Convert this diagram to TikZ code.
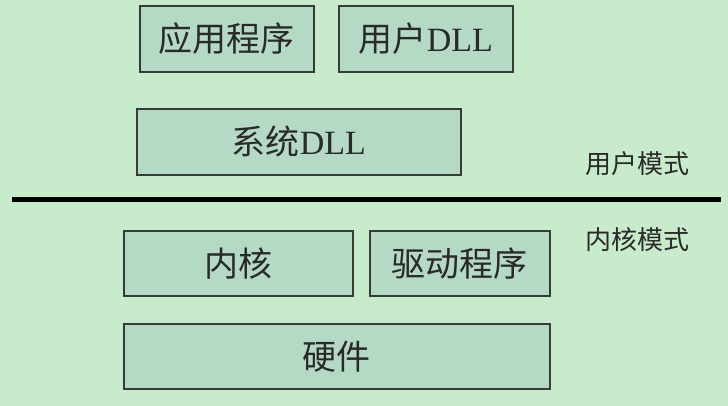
\documentclass[tikz,border=0pt]{standalone}
\usepackage{fontspec}
\newfontfamily\cjk{Noto Sans CJK SC}
\setmainfont{Liberation Serif}
\definecolor{bg}{HTML}{C8EBCB}
\definecolor{boxfill}{HTML}{B4D9C4}
\definecolor{ink}{HTML}{2A2A2A}
\tikzset{
  layer/.style={draw=ink!90!boxfill, line width=1.6pt, fill=boxfill, anchor=north west, inner sep=0pt, text=ink, font=\fontsize{34}{40}\selectfont},
  modelabel/.style={anchor=west, inner sep=0pt, text=ink, font=\cjk\fontsize{26}{30}\selectfont}
}
\begin{document}
\begin{tikzpicture}[x=1pt,y=-1pt]
\fill[bg] (0,0) rectangle (728,406);
\useasboundingbox (0,0) rectangle (728,406);
\node[layer, minimum width=174pt, minimum height=66pt] (app) at (139,5) {\cjk 应用程序};
\node[layer, minimum width=174pt, minimum height=66pt] (udll) at (338,5) {{\cjk 用户}DLL};
\node[layer, minimum width=324pt, minimum height=66pt] (sdll) at (136,108) {{\cjk 系统}DLL};
\coordinate (lineL) at (12,200);
\coordinate (lineR) at (721,200);
\draw[line width=5pt, black] (lineL) -- (lineR);
\node[modelabel] (umode) at (585,164) {用户模式};
\node[modelabel] (kmode) at (585,240) {内核模式};
\node[layer, minimum width=229pt, minimum height=65pt] (kernel) at (123,230) {\cjk 内核};
\node[layer, minimum width=180pt, minimum height=65pt] (driver) at (369,230) {\cjk 驱动程序};
\node[layer, minimum width=426pt, minimum height=65pt] (hw) at (123,323) {\cjk 硬件};
\end{tikzpicture}
\end{document}
